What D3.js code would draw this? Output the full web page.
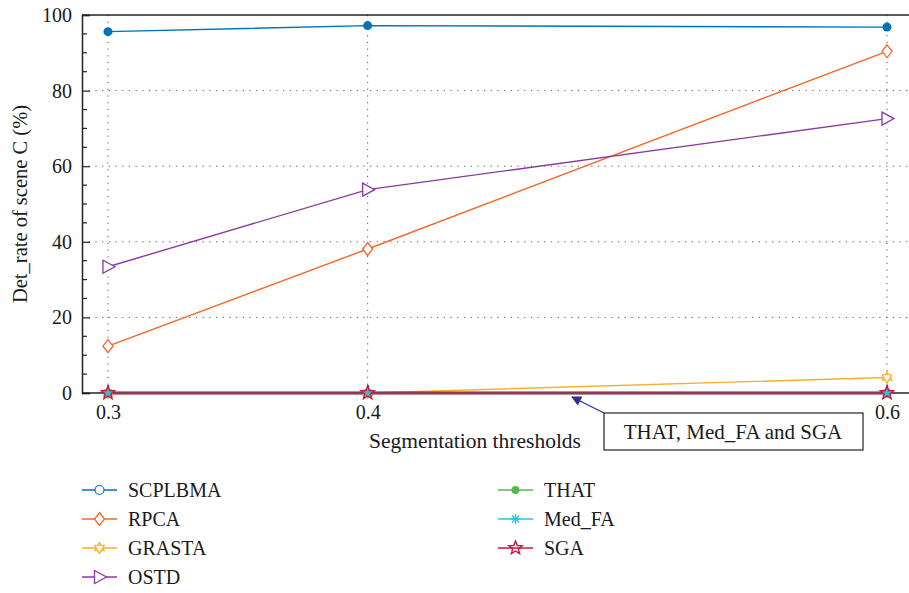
<!DOCTYPE html>
<html>
<head>
<meta charset="utf-8">
<script src="https://cdn.jsdelivr.net/npm/d3@7"></script>
<style>
  body { margin: 0; background: #fff; }
  svg text { font-family: "Liberation Serif", "Times New Roman", serif; fill: #1a1a1a; }
</style>
</head>
<body>
<div id="chart"></div>
<script>
// DATA
const thresholds = [0.3, 0.4, 0.6];
const xTicks = [0.3, 0.4, 0.6];
const yTicks = [0, 20, 40, 60, 80, 100];

const scplbma = [95.6, 97.2, 96.8];
const rpca = [12.4, 38.1, 90.4];
const grasta = [0, 0, 4.1];
const ostd = [33.4, 53.8, 72.6];
const that = [0, 0, 0];
const medFA = [0, 0, 0];
const sga = [0, 0, 0];

const seriesNames = ["SCPLBMA", "RPCA", "GRASTA", "OSTD", "THAT", "Med_FA", "SGA"];
const seriesValues = [scplbma, rpca, grasta, ostd, that, medFA, sga];
const seriesColors = ["#0072BD", "#F4662B", "#F8AE2A", "#8A3B9E", "#55B947", "#2CC0EA", "#C8163F"];
const seriesMarkers = ["dotfill", "diamond", "star6", "triangle", "dot", "asterisk", "star"];

const annotation = "THAT, Med_FA and SGA";

// CONST
const W = 909, H = 593;
const margin = { top: 15, left: 82 };
const plotBottom = 393;

const svg = d3.select("#chart").append("svg")
  .attr("width", W).attr("height", H);

const x = d3.scaleLinear().domain([0.29, 0.6077]).range([margin.left, W - 2]);
const y = d3.scaleLinear().domain([0, 100]).range([plotBottom, margin.top]);

// grid (dotted)
svg.append("g").selectAll("line")
  .data(yTicks.filter(d => d > 0 && d < 100))
  .join("line")
  .attr("x1", margin.left).attr("x2", W)
  .attr("y1", d => y(d)).attr("y2", d => y(d))
  .attr("stroke", "#555").attr("stroke-width", 1)
  .attr("stroke-dasharray", "1.2,5.5");
svg.append("g").selectAll("line")
  .data(xTicks)
  .join("line")
  .attr("x1", d => x(d)).attr("x2", d => x(d))
  .attr("y1", margin.top).attr("y2", plotBottom)
  .attr("stroke", "#555").attr("stroke-width", 1)
  .attr("stroke-dasharray", "1.2,5.5");

// axes
const yAxis = d3.axisLeft(y).tickValues(yTicks).tickSize(-8).tickPadding(14);
const gy = svg.append("g")
  .attr("transform", `translate(${margin.left},0)`)
  .call(yAxis);
gy.select(".domain").attr("stroke", "#222").attr("stroke-width", 1.5);
gy.selectAll(".tick line").attr("stroke", "#222").attr("stroke-width", 1.2);
gy.selectAll(".tick text").attr("font-size", 20).attr("x", -10);
// minor ticks
svg.append("g").selectAll("line")
  .data(d3.range(0, 101, 5).filter(d => d % 20 !== 0))
  .join("line")
  .attr("x1", margin.left).attr("x2", margin.left + 5)
  .attr("y1", d => y(d)).attr("y2", d => y(d))
  .attr("stroke", "#222").attr("stroke-width", 1.2);

const xAxis = d3.axisBottom(x).tickValues(xTicks).tickSize(-8).tickPadding(12)
  .tickFormat(d3.format(".1f"));
const gx = svg.append("g")
  .attr("transform", `translate(0,${plotBottom})`)
  .call(xAxis);
gx.select(".domain").attr("stroke", "#222").attr("stroke-width", 1.5).attr("d", `M${margin.left},0H${W}`);
gx.selectAll(".tick line").attr("stroke", "#222").attr("stroke-width", 1.2);
gx.selectAll(".tick text").attr("font-size", 20);

// top border
svg.append("line")
  .attr("x1", margin.left).attr("x2", W)
  .attr("y1", margin.top).attr("y2", margin.top)
  .attr("stroke", "#222").attr("stroke-width", 1.5);

// axis labels
svg.append("text")
  .attr("x", 475).attr("y", 448)
  .attr("text-anchor", "middle").attr("font-size", 21.5)
  .text("Segmentation thresholds");
svg.append("text")
  .attr("transform", `translate(27,${(margin.top + plotBottom) / 2}) rotate(-90)`)
  .attr("text-anchor", "middle").attr("font-size", 20.5)
  .text("Det_rate of scene C (%)");

// marker drawing
function drawMarker(g, type, cx, cy, color) {
  if (type === "dotfill" || type === "dot") {
    const r = type === "dotfill" ? 4.5 : 4;
    g.append("circle").attr("cx", cx).attr("cy", cy).attr("r", r).attr("fill", color);
  } else if (type === "circle") {
    g.append("circle").attr("cx", cx).attr("cy", cy).attr("r", 4.5)
      .attr("fill", "#fff").attr("stroke", color).attr("stroke-width", 1.2);
  } else if (type === "diamond") {
    g.append("path").attr("d", `M${cx},${cy - 6.5}L${cx + 5},${cy}L${cx},${cy + 6.5}L${cx - 5},${cy}Z`)
      .attr("fill", "#fff").attr("stroke", color).attr("stroke-width", 1.3);
  } else if (type === "triangle") {
    g.append("path").attr("d", `M${cx - 5},${cy - 6.5}L${cx + 7},${cy}L${cx - 5},${cy + 6.5}Z`)
      .attr("fill", "#fff").attr("stroke", color).attr("stroke-width", 1.3);
  } else if (type === "star6") {
    const p1 = [], p2 = [];
    for (let i = 0; i < 3; i++) {
      const a1 = -Math.PI / 2 + i * 2 * Math.PI / 3;
      const a2 = Math.PI / 2 + i * 2 * Math.PI / 3;
      p1.push([cx + 5.5 * Math.cos(a1), cy + 5.5 * Math.sin(a1)]);
      p2.push([cx + 5.5 * Math.cos(a2), cy + 5.5 * Math.sin(a2)]);
    }
    [p1, p2].forEach(p => g.append("path").attr("d", "M" + p.join("L") + "Z")
      .attr("fill", "#fff").attr("stroke", color).attr("stroke-width", 1.2));
  } else if (type === "asterisk") {
    for (let i = 0; i < 4; i++) {
      const a = i * Math.PI / 4;
      g.append("line")
        .attr("x1", cx - 5 * Math.cos(a)).attr("y1", cy - 5 * Math.sin(a))
        .attr("x2", cx + 5 * Math.cos(a)).attr("y2", cy + 5 * Math.sin(a))
        .attr("stroke", color).attr("stroke-width", 1.3);
    }
  } else if (type === "star") {
    const pts = [];
    for (let i = 0; i < 10; i++) {
      const a = -Math.PI / 2 + i * Math.PI / 5;
      const r = i % 2 === 0 ? 7 : 3;
      pts.push([cx + r * Math.cos(a), cy + r * Math.sin(a)]);
    }
    g.append("path").attr("d", "M" + pts.join("L") + "Z")
      .attr("fill", "none").attr("stroke", color).attr("stroke-width", 1.4);
  }
}

// lines
const line = d3.line().x((d, i) => x(thresholds[i])).y(d => y(d));
const plotG = svg.append("g");
seriesValues.forEach((vals, si) => {
  plotG.append("path")
    .datum(vals)
    .attr("d", line)
    .attr("fill", "none")
    .attr("stroke", si >= 4 ? "#8A3A52" : seriesColors[si])
    .attr("stroke-width", si >= 4 ? 2.5 : 1.4);
});
seriesValues.forEach((vals, si) => {
  const mg = plotG.append("g");
  vals.forEach((v, i) => drawMarker(mg, seriesMarkers[si], x(thresholds[i]), y(v), seriesColors[si]));
});

// annotation
svg.append("defs").append("marker")
  .attr("id", "arrow").attr("viewBox", "0 0 10 10")
  .attr("refX", 9).attr("refY", 5)
  .attr("markerWidth", 14).attr("markerHeight", 10)
  .attr("markerUnits", "userSpaceOnUse")
  .attr("orient", "auto")
  .append("path").attr("d", "M0,0L10,5L0,10Z").attr("fill", "#2E3192");
svg.append("line")
  .attr("x1", 604).attr("y1", 413)
  .attr("x2", 572).attr("y2", 397)
  .attr("stroke", "#2E3192").attr("stroke-width", 1.3)
  .attr("marker-end", "url(#arrow)");
svg.append("rect")
  .attr("x", 604).attr("y", 413).attr("width", 259).attr("height", 37)
  .attr("fill", "#fff").attr("stroke", "#222").attr("stroke-width", 1.2);
svg.append("text")
  .attr("x", 733).attr("y", 439).attr("font-size", 21)
  .attr("text-anchor", "middle")
  .text(annotation);

// legend
const legend = svg.append("g");
seriesNames.forEach((name, i) => {
  const col = i < 4 ? 0 : 1;
  const row = i < 4 ? i : i - 4;
  const lx = col === 0 ? 82 : 498;
  const ly = 490 + row * 29;
  const c = seriesColors[i];
  legend.append("line")
    .attr("x1", lx).attr("x2", lx + 35).attr("y1", ly).attr("y2", ly)
    .attr("stroke", c).attr("stroke-width", 1.5);
  drawMarker(legend, i === 0 ? "circle" : seriesMarkers[i], lx + 17.5, ly, c);
  legend.append("text")
    .attr("x", lx + 46).attr("y", ly + 7).attr("font-size", 20)
    .text(name);
});
</script>
</body>
</html>
